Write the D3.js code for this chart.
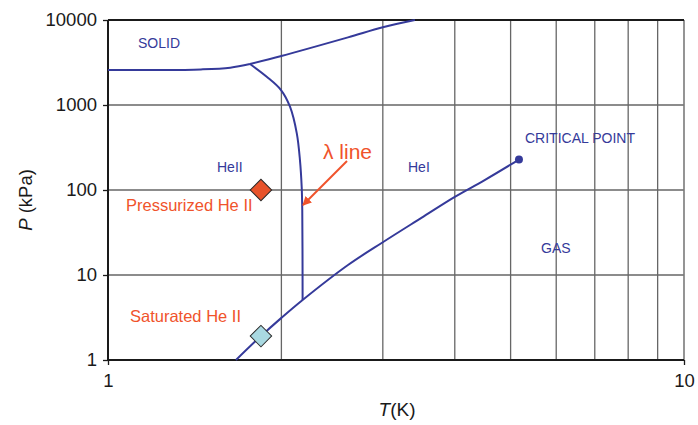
<!DOCTYPE html>
<html>
<head>
<meta charset="utf-8">
<script src="https://cdn.jsdelivr.net/npm/d3@7"></script>
<style>
  body { margin: 0; background: #fff; }
  text { font-family: "Liberation Sans", Arial, sans-serif; }
</style>
</head>
<body>
<script>
// helium phase diagram
var xTicks = [1, 10];
var yTicks = [1, 10, 100, 1000, 10000];
var xGrid = [2, 3, 4, 5, 6, 7, 8, 9];
var yGrid = [10, 100, 1000];

// melting curve (solid / He II)
var meltLowT = [1.0, 1.2, 1.45, 1.63, 1.764];
var meltLowP = [2580, 2575, 2620, 2750, 3035];
// melting curve (solid / He I)
var meltHighT = [1.764, 2.0, 2.61, 3.0, 3.41];
var meltHighP = [3035, 3770, 6240, 8200, 10000];
// lambda line
var lambdaT = [1.764, 1.886, 1.997, 2.07, 2.127, 2.154, 2.169, 2.174, 2.176, 2.177];
var lambdaP = [3035, 2150, 1500, 955, 464, 225, 109, 58, 20, 5.08];
// saturated vapour curve
var vapT = [1.668, 1.843, 2.0, 2.177, 2.61, 3.0, 3.5, 4.0, 4.5, 5.17];
var vapP = [1, 1.91, 3.13, 5.08, 13.1, 24.3, 47, 83, 130, 228];

var critical = {T: 5.17, P: 228};
var pressurized = {T: 1.843, P: 100};
var saturated = {T: 1.843, P: 1.91};

var width = 698, height = 425;
var margins = {top: 20, right: 14, bottom: 65, left: 108};

var blue = "#353a9a";
var orange = "#f0532b";

var svg = d3.select("body").append("svg")
  .attr("width", width)
  .attr("height", height);

var xScale = d3.scaleLog()
  .domain([1, 10])
  .range([margins.left, width - margins.right]);
var yScale = d3.scaleLog()
  .domain([1, 10000])
  .range([height - margins.bottom, margins.top]);

var x0 = xScale(1), x1 = xScale(10), y0 = yScale(1), y1 = yScale(10000);

// grid
svg.append("g").selectAll("line")
  .data(xGrid)
  .enter()
  .append("line")
  .attr("x1", function(d){ return xScale(d); })
  .attr("x2", function(d){ return xScale(d); })
  .attr("y1", y1)
  .attr("y2", y0)
  .attr("stroke", "#666")
  .attr("stroke-width", 1.3);

svg.append("g").selectAll("line")
  .data(yGrid)
  .enter()
  .append("line")
  .attr("x1", x0)
  .attr("x2", x1)
  .attr("y1", function(d){ return yScale(d); })
  .attr("y2", function(d){ return yScale(d); })
  .attr("stroke", "#666")
  .attr("stroke-width", 1.3);

// frame
svg.append("line").attr("x1", x1).attr("x2", x1).attr("y1", y1).attr("y2", y0)
  .attr("stroke", "#7a7a7a").attr("stroke-width", 1.6);
svg.append("line").attr("x1", x0).attr("x2", x1).attr("y1", y1).attr("y2", y1)
  .attr("stroke", "#1a1a1a").attr("stroke-width", 2);

// axes
var xAxis = d3.axisBottom(xScale)
  .tickValues(xTicks)
  .tickFormat(d3.format("d"))
  .tickSize(5)
  .tickPadding(9);
var yAxis = d3.axisLeft(yScale)
  .tickValues(yTicks)
  .tickFormat(d3.format("d"))
  .tickSize(5)
  .tickPadding(6);

var gx = svg.append("g")
  .attr("transform", "translate(0," + y0 + ")")
  .call(xAxis);
var gy = svg.append("g")
  .attr("transform", "translate(" + x0 + ",0)")
  .call(yAxis);

[gx, gy].forEach(function(g){
  g.select(".domain").attr("stroke", "#1a1a1a").attr("stroke-width", 2);
  g.selectAll(".tick line").attr("stroke", "#1a1a1a").attr("stroke-width", 1.3);
  g.selectAll(".tick text")
    .attr("fill", "#1a1a1a")
    .style("font-family", "Liberation Sans, Arial, sans-serif")
    .style("font-size", "18.5px");
});
gx.select(".domain").attr("d", "M" + x0 + ",0H" + x1);
gy.select(".domain").attr("d", "M0," + y0 + "V" + y1);

// axis titles
var xt = svg.append("text")
  .attr("x", 397)
  .attr("y", 416)
  .attr("text-anchor", "middle")
  .style("font-size", "19px")
  .attr("fill", "#1a1a1a");
xt.append("tspan").style("font-style", "italic").text("T");
xt.append("tspan").text("(K)");

var yt = svg.append("text")
  .attr("transform", "translate(32,200) rotate(-90)")
  .attr("text-anchor", "middle")
  .style("font-size", "18.5px")
  .attr("fill", "#1a1a1a");
yt.append("tspan").style("font-style", "italic").text("P");
yt.append("tspan").text(" (kPa)");

// curves
var line = d3.line()
  .x(function(d){ return xScale(d[0]); })
  .y(function(d){ return yScale(d[1]); })
  .curve(d3.curveCatmullRom.alpha(0.5));

function pairs(ts, ps){ return ts.map(function(t, i){ return [t, ps[i]]; }); }

var curves = svg.append("g").attr("fill", "none").attr("stroke", blue).attr("stroke-width", 2);
curves.append("path").attr("d", line(pairs(meltLowT, meltLowP)));
curves.append("path").attr("d", line(pairs(meltHighT, meltHighP)));
curves.append("path").attr("d", line(pairs(lambdaT, lambdaP)));
curves.append("path").attr("d", line(pairs(vapT, vapP)));

// critical point
svg.append("circle")
  .attr("cx", xScale(critical.T))
  .attr("cy", yScale(critical.P))
  .attr("r", 4)
  .attr("fill", blue);

// diamonds
var diamond = d3.symbol().type(d3.symbolSquare).size(230);
svg.append("path")
  .attr("d", diamond())
  .attr("transform", "translate(" + xScale(pressurized.T) + "," + yScale(pressurized.P) + ") rotate(45)")
  .attr("fill", "#e8532b")
  .attr("stroke", "#2a2a2a")
  .attr("stroke-width", 1);
svg.append("path")
  .attr("d", diamond())
  .attr("transform", "translate(" + xScale(saturated.T) + "," + yScale(saturated.P) + ") rotate(45)")
  .attr("fill", "#a9d9e1")
  .attr("stroke", "#2a2a2a")
  .attr("stroke-width", 1);

// region labels
var blueLabels = [
  {text: "SOLID", x: 138, y: 48},
  {text: "HeII", x: 217, y: 172},
  {text: "HeI", x: 408, y: 172},
  {text: "CRITICAL POINT", x: 525, y: 143},
  {text: "GAS", x: 541, y: 253}
];
svg.append("g").selectAll("text")
  .data(blueLabels)
  .enter()
  .append("text")
  .attr("x", function(d){ return d.x; })
  .attr("y", function(d){ return d.y; })
  .attr("fill", blue)
  .style("font-size", "14px")
  .text(function(d){ return d.text; });

var orangeLabels = [
  {text: "Pressurized He II", x: 126, y: 211, size: 16.5},
  {text: "Saturated He II", x: 130, y: 322, size: 16.5},
  {text: "\u03bb line", x: 323, y: 159, size: 21}
];
svg.append("g").selectAll("text")
  .data(orangeLabels)
  .enter()
  .append("text")
  .attr("x", function(d){ return d.x; })
  .attr("y", function(d){ return d.y; })
  .attr("fill", orange)
  .style("font-size", function(d){ return d.size + "px"; })
  .text(function(d){ return d.text; });

// arrow to the lambda line
svg.append("defs").append("marker")
  .attr("id", "head")
  .attr("viewBox", "0 0 10 10")
  .attr("refX", 9)
  .attr("refY", 5)
  .attr("markerWidth", 4.5)
  .attr("markerHeight", 4.5)
  .attr("orient", "auto")
  .append("path")
  .attr("d", "M0,0L10,5L0,10z")
  .attr("fill", orange);

svg.append("line")
  .attr("x1", 347)
  .attr("y1", 161)
  .attr("x2", 303)
  .attr("y2", 205)
  .attr("stroke", orange)
  .attr("stroke-width", 2)
  .attr("marker-end", "url(#head)");
</script>
</body>
</html>
